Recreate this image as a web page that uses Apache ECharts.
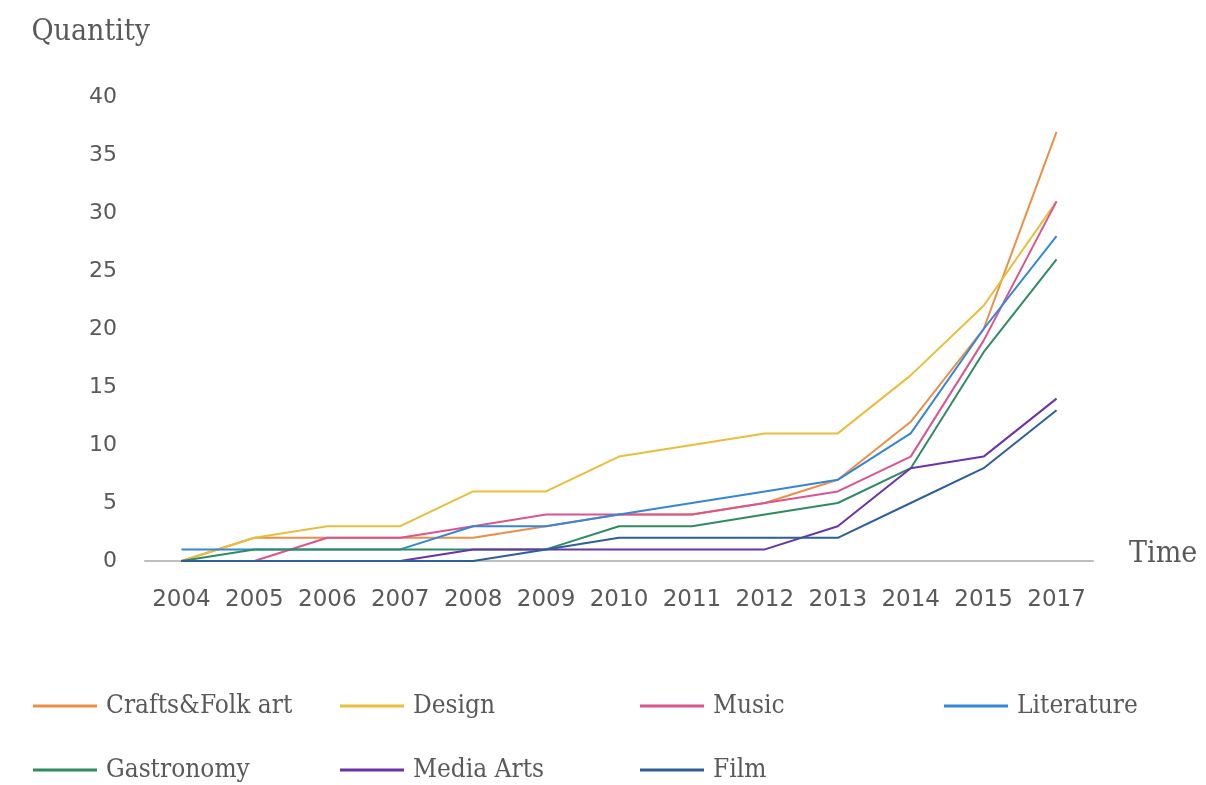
<!DOCTYPE html>
<html>
<head>
<meta charset="utf-8">
<title>Creative cities by field</title>
<script src="https://cdn.jsdelivr.net/npm/echarts@6/dist/echarts.min.js"></script>
<style>
  html, body { margin: 0; padding: 0; background: #ffffff; }
  #chart { width: 1206px; height: 785px; }
</style>
</head>
<body>
<div id="chart"></div>
<script>
// Years on the horizontal axis (2016 has no entry)
const years = ['2004', '2005', '2006', '2007', '2008', '2009', '2010', '2011', '2012', '2013', '2014', '2015', '2017'];

// Cumulative number of cities per field
const craftsFolkArt = [0, 2, 2, 2, 2, 3, 4, 4, 5, 7, 12, 20, 37];
const design        = [0, 2, 3, 3, 6, 6, 9, 10, 11, 11, 16, 22, 31];
const music         = [0, 0, 2, 2, 3, 4, 4, 4, 5, 6, 9, 19, 31];
const literature    = [1, 1, 1, 1, 3, 3, 4, 5, 6, 7, 11, 20, 28];
const gastronomy    = [0, 1, 1, 1, 1, 1, 3, 3, 4, 5, 8, 18, 26];
const mediaArts     = [0, 0, 0, 0, 1, 1, 1, 1, 1, 3, 8, 9, 14];
const film          = [0, 0, 0, 0, 0, 1, 2, 2, 2, 2, 5, 8, 13];

const seriesNames = ['Crafts&Folk art', 'Design', 'Music', 'Literature', 'Gastronomy', 'Media Arts', 'Film'];
const seriesData = [craftsFolkArt, design, music, literature, gastronomy, mediaArts, film];
const seriesColors = ['#EC8F46', '#E9BE3C', '#DA558D', '#3486D8', '#2F8B60', '#6A33A8', '#2D5F9A'];

// Legend slot for each series: [left, top]
const legendSlots = [[33, 693], [340, 693], [640, 693], [944, 693], [33, 757], [340, 757], [640, 757]];

const textGray = '#595959';
const serifFont = '"DejaVu Serif Condensed", "DejaVu Serif", "Liberation Serif", serif';
const tickFont = '"DejaVu Sans", sans-serif';

const chart = echarts.init(document.getElementById('chart'), null, { renderer: 'canvas' });

const option = {
  backgroundColor: '#ffffff',
  animation: false,
  grid: { left: 145, right: 113, top: 97, bottom: 224, containLabel: false },
  legend: seriesNames.map((name, i) => ({
    data: [name],
    left: legendSlots[i][0],
    top: legendSlots[i][1],
    icon: 'rect',
    itemWidth: 64,
    itemHeight: 3,
    padding: 0,
    textStyle: {
      fontFamily: serifFont,
      fontSize: 26,
      color: textGray,
      padding: [0, 0, 0, 4]
    }
  })),
  xAxis: {
    type: 'category',
    data: years,
    boundaryGap: true,
    name: 'Time',
    nameLocation: 'end',
    nameGap: 36,
    nameTextStyle: {
      fontFamily: serifFont,
      fontSize: 30,
      color: textGray,
      verticalAlign: 'bottom',
      lineHeight: 14
    },
    axisLine: { show: true, lineStyle: { color: '#BFBFBF', width: 2 } },
    axisTick: { show: false },
    axisLabel: {
      margin: 28,
      fontFamily: tickFont,
      fontSize: 23,
      color: textGray,
      interval: 0
    },
    splitLine: { show: false }
  },
  yAxis: {
    type: 'value',
    min: 0,
    max: 40,
    interval: 5,
    name: 'Quantity',
    nameLocation: 'end',
    nameGap: 50,
    nameTextStyle: {
      fontFamily: serifFont,
      fontSize: 30,
      color: textGray,
      align: 'right',
      padding: [0, -5, 0, 0]
    },
    axisLine: { show: false },
    axisTick: { show: false },
    axisLabel: {
      margin: 28,
      fontFamily: tickFont,
      fontSize: 22,
      color: textGray
    },
    splitLine: { show: false }
  },
  series: seriesNames.map((name, i) => ({
    name: name,
    type: 'line',
    data: seriesData[i],
    symbol: 'none',
    showSymbol: false,
    smooth: false,
    color: seriesColors[i],
    lineStyle: { width: 2, color: seriesColors[i] },
    emphasis: { disabled: true }
  }))
};

chart.setOption(option);
</script>
</body>
</html>
